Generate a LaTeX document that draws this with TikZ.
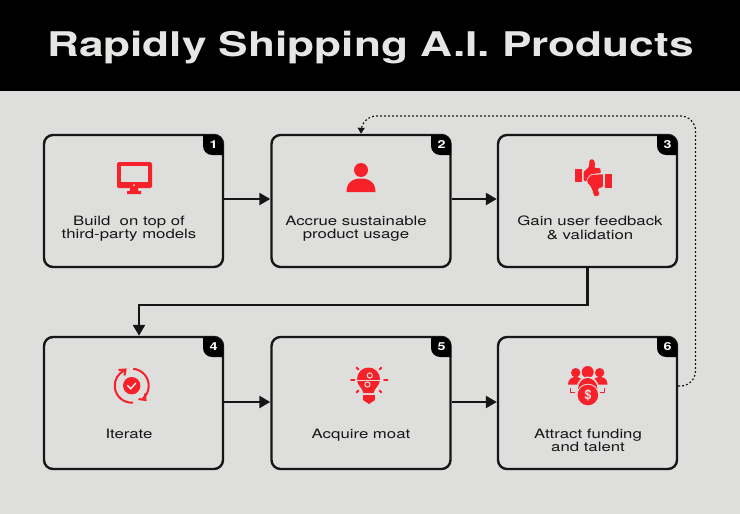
\documentclass[tikz,border=0pt]{standalone}
\usepackage{fontspec}
\setmainfont{TeX Gyre Heros}
\newfontfamily\widefont[FakeStretch=1.3]{TeX Gyre Heros}
\usetikzlibrary{arrows.meta}
\definecolor{iconred}{RGB}{247,33,42}
\definecolor{paper}{RGB}{222,222,221}
\definecolor{titlegray}{RGB}{230,230,228}
\definecolor{inkblack}{RGB}{22,22,22}
\begin{document}
\begin{tikzpicture}[x=1pt, y=-1pt,
		>={Triangle[length=11pt,width=12pt]},
		stepbox/.style={draw=inkblack, line width=2.4pt, rounded corners=9pt, minimum width=179pt, minimum height=132pt, inner sep=0pt},
		steplabel/.style={anchor=north, align=center, text=inkblack, font=\widefont\fontsize{12.9}{13.2}\selectfont, inner sep=0pt},
		stepnum/.style={text=white, font=\widefont\bfseries\fontsize{11}{11}\selectfont, inner sep=0pt},
		flow/.style={->, line width=2.4pt, draw=inkblack},
		loopback/.style={-{Triangle[length=6pt,width=7pt]}, line width=1.2pt, dash pattern=on 1.8pt off 2.2pt, draw=inkblack, rounded corners=15pt}]
		% Hintergrund
		\useasboundingbox (0,0) rectangle (740,514);
		\fill[paper] (0,0) rectangle (740,514);
		\fill[black] (0,0) rectangle (740,91);
		\node[text=titlegray, font=\widefont\bfseries\fontsize{34}{34}\selectfont, inner sep=0pt] (title) at (370.5,47.5) {Rapidly Shipping A.I. Products};
		% Kaesten
		\foreach \name/\x/\y in {box1/133.5/201, box2/361/201, box3/587.5/201, box4/133.5/403, box5/361/403, box6/587.5/403}
			\node[stepbox] (\name) at (\x,\y) {};
		% Nummern
		\foreach \x/\y/\n in {223/135/1, 451/135/2, 677/135/3, 223/337/4, 451/337/5, 677/337/6} {
			\fill[black] (\x-20,\y) [rounded corners=9pt] -- (\x,\y) [sharp corners] -- (\x,\y+20) [rounded corners=9pt] -- (\x-20,\y+20) [sharp corners] -- cycle;
			\node[stepnum] (num\n) at (\x-9.5,\y+9.5) {\n};
		}
		% Texte
		\node[steplabel] (lab1) at (129,216) {Build\ \ on top of\\third-party models};
		\node[steplabel] (lab2) at (356,216) {Accrue sustainable\\product usage};
		\node[steplabel] (lab3) at (590,216) {Gain user feedback\\\&\ validation};
		\node[steplabel] (lab4) at (129,429) {Iterate};
		\node[steplabel] (lab5) at (361,429) {Acquire moat};
		\node[steplabel] (lab6) at (588,429) {Attract funding\\and talent};
		% Pfeile
		\draw[flow] ([yshift=2pt]box1.east) -- ([yshift=2pt]box2.west);
		\draw[flow] ([yshift=2pt]box2.east) -- ([yshift=2pt]box3.west);
		\draw[flow] ([yshift=1pt]box4.east) -- ([yshift=1pt]box5.west);
		\draw[flow] ([yshift=1pt]box5.east) -- ([yshift=1pt]box6.west);
		\draw[flow] (box3.south) -- ++(0,37) -| ([xshift=5.5pt]box4.north);
		\coordinate (backB) at (695.5,386);
		\coordinate (backR) at (695.5,116);
		\coordinate (backL) at (361.5,116);
		\draw[loopback] ([yshift=17pt]box6.east) -- (backB) -- (backR) -- (backL) -- (box2.north);
		% Monitor
		\fill[iconred, rounded corners=1.5pt] (117,162) rectangle (152,188);
		\fill[paper] (121,166) rectangle (148,182);
		\fill[paper] (134,185) circle (1pt);
		\fill[iconred] (130.5,187) -- (137.5,187) -- (138.5,191) -- (141,191) -- (141,194) -- (127,194) -- (127,191) -- (129.5,191) -- cycle;
		% Person
		\fill[iconred] (361,170) circle (7pt);
		\fill[iconred] (346.5,192) .. controls (346.5,183) and (352,178.5) .. (361,178.5) .. controls (370,178.5) and (375.5,183) .. (375.5,192) -- cycle;
		% Daumen
		\fill[iconred] (575,168.5) rectangle (582,181.5);
		\fill[iconred, rounded corners=1pt] (583.5,181) -- (583.5,172) -- (589,167) -- (589.5,160) -- (593,159) -- (595,163) -- (594.5,168) -- (600,168) -- (601,173) -- (592,174) -- (588,181) -- cycle;
		\fill[iconred] (605,174) rectangle (612,188);
		\draw[paper, line width=0.6pt, fill=iconred, rounded corners=1pt] (603.5,174) -- (603.5,187) -- (598,189) -- (600,195) -- (597,196.5) -- (594,196.5) -- (592,190) -- (590,186) -- (587,183) -- (587,179) -- (591,174.5) -- cycle;
		% Kreislauf
		\fill[iconred] (131.7,385.7) circle (8.7pt);
		\draw[white, line width=1.3pt, line cap=round] (127.7,385.7) -- (130.7,388.7) -- (135.7,383.2);
		\draw[iconred, line width=2pt] (133.2,402.6) arc[start angle=85, end angle=247.5, radius=17];
		\draw[iconred, line width=2pt] (133.2,368.8) arc[start angle=-85, end angle=50, radius=17];
		\draw[iconred, line width=2pt] (118.5,370) -- (125.5,369.5) -- (124.5,375.5);
		\draw[iconred, line width=2pt] (138.5,399) -- (145.5,400) -- (145,393.5);
		% Gluehbirne
		\fill[iconred] (363.5,393) .. controls (362,387) and (357,386) .. (357,379) arc[start angle=180, end angle=360, radius=11.5] .. controls (380,386) and (375,387) .. (373.5,393) -- cycle;
		\fill[iconred] (363,395) rectangle (375,400);
		\fill[iconred] (363,400) -- (375,400) -- (369,404) -- cycle;
		\draw[paper, line width=0.9pt] (357,380) -- (380,380);
		\draw[paper, line width=1pt, fill=iconred] (369.8,375.5) circle (2.6pt);
		\draw[paper, line width=1pt, fill=iconred] (367.4,384.5) circle (2.6pt);
		\foreach \ax/\ay/\bx/\by in {356.5/367.5/358.5/369.5, 381.5/367.5/379.5/369.5, 351/380/354.5/380, 384/380/387.5/380, 356.5/392.5/358.5/390.5, 381.5/392.5/379.5/390.5}
			\draw[iconred, line width=2pt, line cap=round] (\ax,\ay) -- (\bx,\by);
		% Leute und Dollar
		\fill[iconred] (575.7,372.7) circle (4.7pt);
		\fill[iconred] (599.7,372.7) circle (4.7pt);
		\fill[iconred] (568,384.5) .. controls (568,379) and (572,377) .. (575.7,377) .. controls (580,377) and (583,379) .. (583,384.5) -- cycle;
		\fill[iconred] (592,384.5) .. controls (592,379) and (596,377) .. (599.7,377) .. controls (604,377) and (607.5,379) .. (607.5,384.5) -- cycle;
		\fill[paper] (587.7,372) circle (7pt);
		\fill[iconred] (587.7,372) circle (6pt);
		\fill[paper] (576.5,389) .. controls (576.5,381) and (582,376.5) .. (587.7,376.5) .. controls (593,376.5) and (599,381) .. (599,389) -- cycle;
		\fill[iconred] (578,389) .. controls (578,382) and (583,378) .. (587.7,378) .. controls (592,378) and (597.5,382) .. (597.5,389) -- cycle;
		\draw[iconred, line width=1.2pt] (570.7,388.3) -- (570.7,392.7) -- (575,392.7);
		\draw[iconred, line width=1.2pt] (604.7,388.3) -- (604.7,392.7) -- (600.4,392.7);
		\fill[paper] (587.9,395) circle (11.3pt);
		\node[circle, fill=iconred, minimum size=20.6pt, inner sep=0pt, text=paper, font=\bfseries\fontsize{13}{13}\selectfont] (dollar) at (587.9,395) {\$};
	\end{tikzpicture}
\end{document}
